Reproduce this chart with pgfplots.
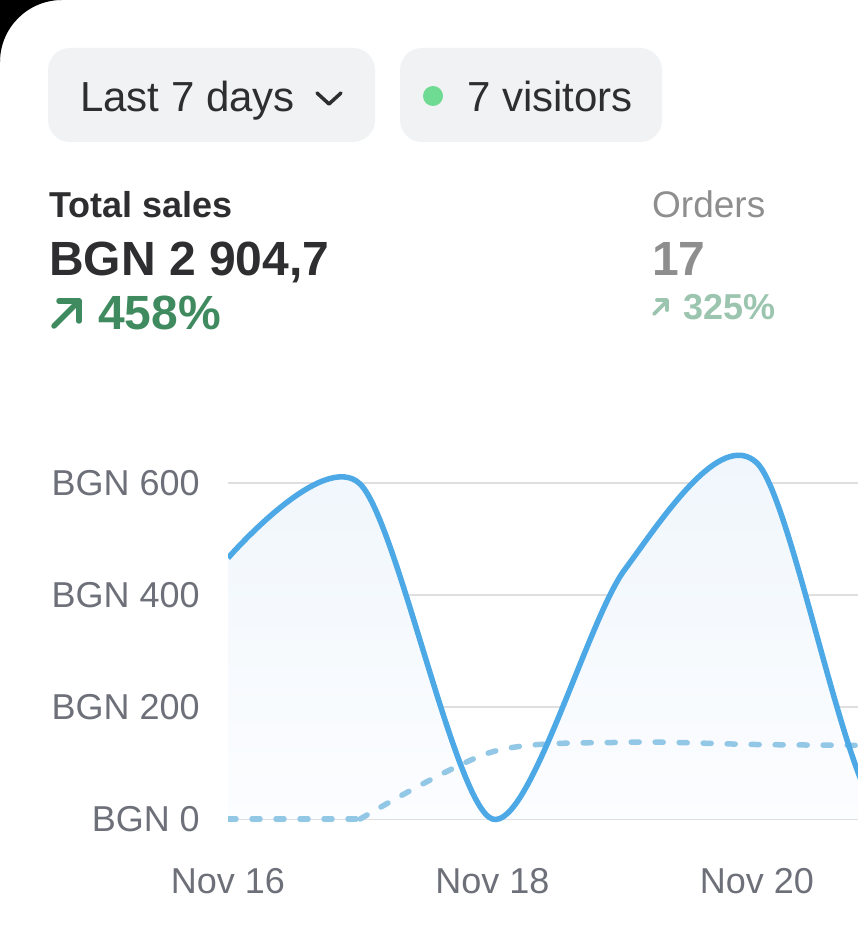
\documentclass[border=0pt]{standalone}
\usepackage{fontspec}
\setmainfont{Liberation Sans}
\usepackage{pgfplots}
\usepackage{pgfplotstable}
\pgfplotsset{compat=1.18}
\definecolor{linec}{HTML}{4DA8E6}
\definecolor{dashc}{HTML}{93C7E6}
\definecolor{gridc}{HTML}{DFDFE2}
\definecolor{tickc}{HTML}{6D7079}
\definecolor{pillc}{HTML}{F1F2F4}
\definecolor{darkt}{HTML}{2E2E30}
\definecolor{greent}{HTML}{3F8A5F}
\definecolor{lgreent}{HTML}{9CC5AF}
\definecolor{grayt}{HTML}{8E8E8E}
\definecolor{dotc}{HTML}{6FDB92}
\definecolor{filltop}{HTML}{EEF5FB}
\definecolor{fillbot}{HTML}{FCFDFF}

% daily total sales, Nov 16 .. Nov 22 (x = days after Nov 16)
\pgfplotstableread{
x y
0 466
1 598
2 0
3 445
4 636
5 0
6 760
}\sales

% previous period (comparison), same days
\pgfplotstableread{
x y
0 0
1 0
2 120
3 137
4 133
5 131
6 0
}\prevsales

\newcommand{\fs}[1]{\fontsize{#1}{#1}\selectfont}

\begin{document}
\begin{tikzpicture}[x=1pt,y=1pt]
\fill[white] (0,0) rectangle (858,927);
\path[use as bounding box] (0,0) rectangle (858,927);
% phone corner
\fill[black] (0,927) -- (62,927) arc[start angle=90, end angle=180, radius=62] -- cycle;

% pills
\fill[pillc, rounded corners=22pt] (48,785) rectangle (375,879);
\fill[pillc, rounded corners=22pt] (400,785) rectangle (662,879);
\node[anchor=base west, inner sep=0, text=darkt, font=\fs{42}] at (80,815) {Last 7 days};
\draw[darkt, line width=3.5, line cap=round, line join=round] (317,834) -- (329,823) -- (341,834);
\fill[dotc] (433,831) circle (10);
\node[anchor=base west, inner sep=0, text=darkt, font=\fs{42}] at (467,815) {7 visitors};

% KPIs
\node[anchor=base west, inner sep=0, text=darkt, font=\bfseries\fs{36}] at (49,709) {Total sales};
\node[anchor=base west, inner sep=0, text=darkt, font=\bfseries\fs{48}] at (49,651) {BGN 2 904,7};
\draw[greent, line width=5.5, line cap=round, line join=round] (54,601) -- (79,626);
\draw[greent, line width=5.5, line cap=round, line join=round] (59,626) -- (79,626) -- (79,606);
\node[anchor=base west, inner sep=0, text=greent, font=\bfseries\fs{48}] at (98,597) {458\%};

\node[anchor=base west, inner sep=0, text=grayt, font=\fs{37}] at (652,709) {Orders};
\node[anchor=base west, inner sep=0, text=grayt, font=\bfseries\fs{48}] at (652,651) {17};
\draw[lgreent, line width=3.8, line cap=round, line join=round] (654,613) -- (667,626);
\draw[lgreent, line width=3.8, line cap=round, line join=round] (657,627) -- (667,627) -- (667,617);
\node[anchor=base west, inner sep=0, text=lgreent, font=\bfseries\fs{36}] at (683,607) {325\%};

\begin{axis}[
  at={(228pt,96.8pt)}, anchor=south west,
  scale only axis, width=630pt, height=403.2pt,
  xmin=0, xmax=4.7655, ymin=-20, ymax=700,
  axis line style={draw=none},
  major tick length=0pt,
  ymajorgrids, grid style={gridc, line width=2pt},
  ytick={0,200,400,600},
  yticklabels={BGN 0,BGN 200,BGN 400,BGN 600},
  xtick={0,2,4},
  xticklabels={Nov 16,Nov 18,Nov 20},
  yticklabel style={anchor=base east, inner sep=0pt, xshift=-28pt, yshift=-12.5pt, text=tickc, font=\fs{36}},
  xticklabel style={anchor=base, inner sep=0pt, yshift=-62.8pt, text=tickc, font=\fs{36}},
  dashed line/.style={dashc, line width=5.5pt, line cap=round, dash pattern=on 8pt off 16pt},
]
\addplot[draw=none, smooth, top color=filltop, bottom color=fillbot] table[x=x,y=y] {\sales} \closedcycle;
\addplot[dashed line] table[x=x,y=y, restrict x to domain=0:1] {\prevsales};
\addplot[dashed line, smooth] table[x=x,y=y, restrict x to domain=1:5] {\prevsales};
\addplot[dashed line] table[x=x,y=y, restrict x to domain=5:6] {\prevsales};
\addplot[linec, line width=5.5pt, smooth] table[x=x,y=y] {\sales};
\end{axis}
\end{tikzpicture}
\end{document}
